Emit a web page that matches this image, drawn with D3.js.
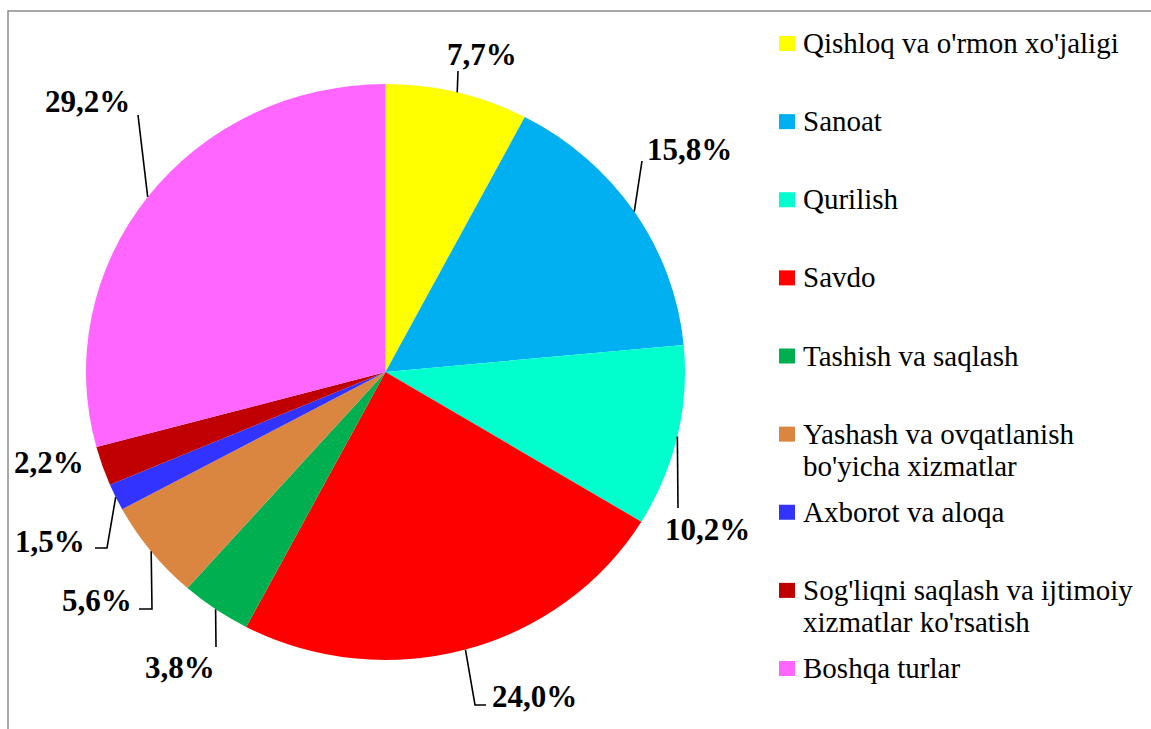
<!DOCTYPE html>
<html>
<head>
<meta charset="utf-8">
<script src="https://cdn.jsdelivr.net/npm/d3@7"></script>
<style>
  body { margin: 0; background: #fff; }
  svg { display: block; }
</style>
</head>
<body>
<script>
// chart data
var categories = ["Qishloq va o'rmon xo'jaligi", "Sanoat", "Qurilish", "Savdo",
                  "Tashish va saqlash", "Yashash va ovqatlanish bo'yicha xizmatlar",
                  "Axborot va aloqa", "Sog'liqni saqlash va ijtimoiy xizmatlar ko'rsatish",
                  "Boshqa turlar"];
var legendLines = [["Qishloq va o'rmon xo'jaligi"], ["Sanoat"], ["Qurilish"], ["Savdo"],
                   ["Tashish va saqlash"], ["Yashash va ovqatlanish", "bo'yicha xizmatlar"],
                   ["Axborot va aloqa"], ["Sog'liqni saqlash va ijtimoiy", "xizmatlar ko'rsatish"],
                   ["Boshqa turlar"]];
var values = [7.7, 15.8, 10.2, 24.0, 3.8, 5.6, 1.5, 2.2, 29.2];
var colors = ["#FFFF00", "#00B0F0", "#00FFCC", "#FF0000", "#00B050",
              "#DA8540", "#3333FF", "#C00000", "#FF66FF"];

// where excel put each data label (text start x, baseline y) and its leader line
var labelLayout = [
    {x: 447, y: 65,  leader: [[458, 71]]},
    {x: 647, y: 160, leader: [[642, 161]]},
    {x: 665, y: 540, leader: [[678, 508]]},
    {x: 492, y: 707, leader: [[475, 705], [486, 705]]},
    {x: 145, y: 678, leader: [[216, 647]]},
    {x: 62,  y: 611, leader: [[152, 609], [139, 609]]},
    {x: 15,  y: 552, leader: [[107, 548], [95, 548]]},
    {x: 14,  y: 473, leader: null},
    {x: 45,  y: 112, leader: [[138, 115]]}
];

var FONT = "'Liberation Serif'";
var width = 1151, height = 729;
var cx = 385.5, cy = 372, rx = 299.5, ry = 288;

var svg = d3.select("body").append("svg")
    .attr("width", width)
    .attr("height", height);

// frame of the chart area (runs off the right and bottom edges)
svg.append("rect")
    .attr("x", 8).attr("y", 11)
    .attr("width", 1300).attr("height", 900)
    .attr("fill", "none")
    .attr("stroke", "#8c8c8c")
    .attr("stroke-width", 1.5);

var pie = d3.pie().sort(null).value(function(d){ return d; });
var arcs = pie(values);
var arc = d3.arc().innerRadius(0).outerRadius(rx);

// slightly squashed pie, like the original
svg.append("g")
    .attr("transform", "translate(" + cx + "," + cy + ") scale(1," + (ry/rx) + ")")
    .selectAll("path")
    .data(arcs).enter().append("path")
    .attr("d", arc)
    .attr("fill", function(d, i){ return colors[i]; });

var fmt = function(v){ return d3.format(".1f")(v).replace(".", ",") + "%"; };

// point on the pie edge at the middle of a slice
var edgePoint = function(d){
    var a = (d.startAngle + d.endAngle) / 2;
    return [cx + rx * Math.sin(a), cy - ry * Math.cos(a)];
};

var line = d3.line();
svg.append("g").selectAll("path")
    .data(arcs.filter(function(d, i){ return labelLayout[i].leader; }))
    .enter().append("path")
    .attr("d", function(d){
        return line([edgePoint(d)].concat(labelLayout[d.index].leader));
    })
    .attr("fill", "none")
    .attr("stroke", "#000")
    .attr("stroke-width", 1.6);

svg.append("g").selectAll("text")
    .data(arcs).enter().append("text")
    .attr("x", function(d){ return labelLayout[d.index].x; })
    .attr("y", function(d){ return labelLayout[d.index].y; })
    .style("font-family", FONT)
    .style("font-weight", "bold")
    .style("font-size", "31px")
    .attr("fill", "#000")
    .text(function(d){ return fmt(d.data); });

// legend
var legendY = d3.scaleLinear().domain([0, categories.length - 1]).range([53, 678]);
var legend = svg.append("g").selectAll("g")
    .data(categories).enter().append("g")
    .attr("transform", function(d, i){ return "translate(0," + legendY(i) + ")"; });

legend.append("rect")
    .attr("x", 779).attr("y", -17)
    .attr("width", 16).attr("height", 15)
    .attr("fill", function(d, i){ return colors[i]; });

legend.append("text")
    .style("font-family", FONT)
    .style("font-size", "29px")
    .attr("fill", "#000")
    .each(function(d, i){
        d3.select(this).selectAll("tspan")
            .data(legendLines[i]).enter().append("tspan")
            .attr("x", 803)
            .attr("dy", function(t, j){ return j === 0 ? 0 : 32; })
            .text(function(t){ return t; });
    });
</script>
</body>
</html>
